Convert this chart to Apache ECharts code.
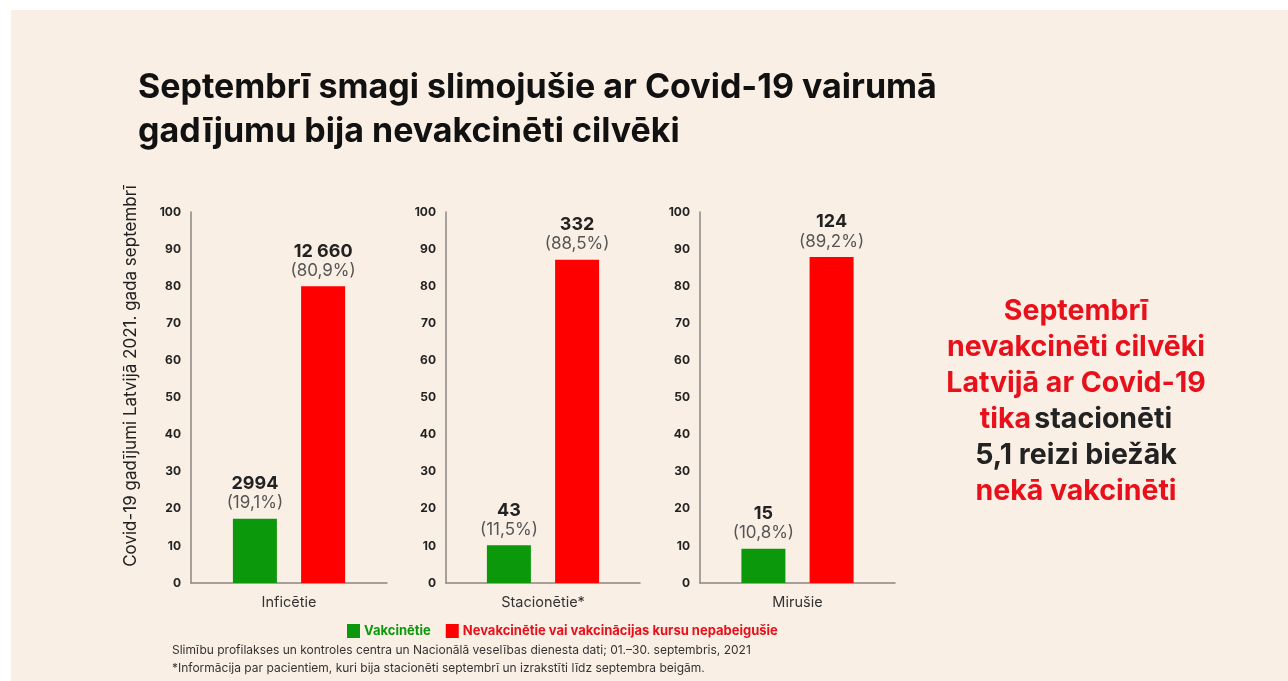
<!DOCTYPE html>
<html>
<head>
<meta charset="utf-8">
<script src="https://cdn.jsdelivr.net/npm/echarts@6/dist/echarts.min.js"></script>
<style>
  html, body { margin: 0; padding: 0; background: #fff; }
  #chart { width: 1288px; height: 681px; }
</style>
</head>
<body>
<div id="chart"></div>
<script>
// dati no attēla
const categories = ['Inficētie', 'Stacionētie*', 'Mirušie']
const vaccinated = [17.3, 10.2, 9.2]
const unvaccinated = [80.0, 87.1, 87.9]
const vaccCounts = ['2994', '43', '15']
const unvaccCounts = ['12 660', '332', '124']
const vaccPct = ['19,1%', '11,5%', '10,8%']
const unvaccPct = ['80,9%', '88,5%', '89,2%']
const yTicks = [0, 10, 20, 30, 40, 50, 60, 70, 80, 90, 100]

const FONT = 'Inter, "Noto Sans", sans-serif'
const GREEN = '#0b990b'
const RED = '#fe0000'
const TEXT_RED = '#e8101a'

const gridLefts = [191, 446, 700]
const gridWidths = [196, 194, 195]

const labelRich = {
  v: { fontFamily: FONT, fontSize: 18, fontWeight: 'bold', color: '#222', lineHeight: 20 },
  p: { fontFamily: FONT, fontSize: 17, color: '#555', lineHeight: 19 },
}

const grid = []
const xAxis = []
const yAxis = []
const series = []

for (let i = 0; i < categories.length; i++) {
  grid.push({ left: gridLefts[i], width: gridWidths[i], top: 212, height: 371 })
  xAxis.push({
    type: 'category',
    gridIndex: i,
    data: [categories[i]],
    axisLine: { lineStyle: { color: '#8c8781', width: 1.5 } },
    axisTick: { show: false },
    axisLabel: { fontFamily: FONT, fontSize: 14.5, color: '#333', margin: 12 },
  })
  yAxis.push({
    type: 'value',
    gridIndex: i,
    min: yTicks[0],
    max: yTicks[yTicks.length - 1],
    interval: 10,
    axisLine: { show: true, lineStyle: { color: '#8c8781', width: 1.5 } },
    axisTick: { show: false },
    splitLine: { show: false },
    axisLabel: { fontFamily: FONT, fontSize: 12, fontWeight: 'bold', color: '#222', margin: 10 },
  })
  series.push({
    name: 'Vakcinētie',
    type: 'bar',
    xAxisIndex: i,
    yAxisIndex: i,
    data: [vaccinated[i]],
    barWidth: 44,
    barGap: '55%',
    itemStyle: { color: GREEN },
    label: {
      show: true,
      position: 'top',
      distance: 6,
      formatter: () => '{v|' + vaccCounts[i] + '}\n{p|(' + vaccPct[i] + ')}',
      rich: labelRich,
    },
  })
  series.push({
    name: 'Nevakcinētie vai vakcinācijas kursu nepabeigušie',
    type: 'bar',
    xAxisIndex: i,
    yAxisIndex: i,
    data: [unvaccinated[i]],
    barWidth: 44,
    barGap: '55%',
    itemStyle: { color: RED },
    label: {
      show: true,
      position: 'top',
      distance: 6,
      formatter: () => '{v|' + unvaccCounts[i] + '}\n{p|(' + unvaccPct[i] + ')}',
      rich: labelRich,
    },
  })
}

const chart = echarts.init(document.getElementById('chart'))

chart.setOption({
  animation: false,
  backgroundColor: '#fff',
  title: {
    text: 'Septembrī smagi slimojušie ar Covid-19 vairumā\ngadījumu bija nevakcinēti cilvēki',
    left: 133,
    top: 61,
    textStyle: { fontFamily: FONT, fontSize: 34, fontWeight: 'bold', color: '#111', lineHeight: 44 },
  },
  legend: {
    left: 342,
    top: 619,
    itemWidth: 13,
    itemHeight: 14,
    itemGap: 15,
    icon: 'rect',
    data: [
      { name: 'Vakcinētie', textStyle: { color: GREEN } },
      { name: 'Nevakcinētie vai vakcinācijas kursu nepabeigušie', textStyle: { color: TEXT_RED } },
    ],
    textStyle: { fontFamily: FONT, fontSize: 13, fontWeight: 'bold', padding: [0, 0, 0, -1] },
  },
  grid: grid,
  xAxis: xAxis,
  yAxis: yAxis,
  series: series,
  graphic: [
    {
      type: 'rect',
      z: -10,
      silent: true,
      shape: { x: 11, y: 10, width: 1277, height: 671 },
      style: { fill: '#faefe5' },
    },
    {
      type: 'text',
      x: 131,
      y: 376,
      rotation: Math.PI / 2,
      style: {
        text: 'Covid-19 gadījumi Latvijā 2021. gada septembrī',
        font: '17px ' + FONT,
        fill: '#222',
        align: 'center',
        verticalAlign: 'middle',
      },
    },
    {
      type: 'text',
      x: 1076,
      y: 293,
      style: {
        text: '{r|Septembrī}\n{r|nevakcinēti cilvēki}\n{r|Latvijā ar Covid-19}\n{r|tika} {d|stacionēti}\n{d|5,1 reizi biežāk}\n{r|nekā vakcinēti}',
        align: 'center',
        rich: {
          r: { fontFamily: FONT, fontSize: 28.5, fontWeight: 'bold', fill: TEXT_RED, lineHeight: 36 },
          d: { fontFamily: FONT, fontSize: 28.5, fontWeight: 'bold', fill: '#222', lineHeight: 36 },
        },
      },
    },
    {
      type: 'text',
      x: 172,
      y: 641,
      style: {
        text: 'Slimību profilakses un kontroles centra un Nacionālā veselības dienesta dati; 01.–30. septembris, 2021\n*Informācija par pacientiem, kuri bija stacionēti septembrī un izrakstīti līdz septembra beigām.',
        font: '12px ' + FONT,
        fill: '#333',
        lineHeight: 18,
      },
    },
  ],
})
</script>
</body>
</html>
